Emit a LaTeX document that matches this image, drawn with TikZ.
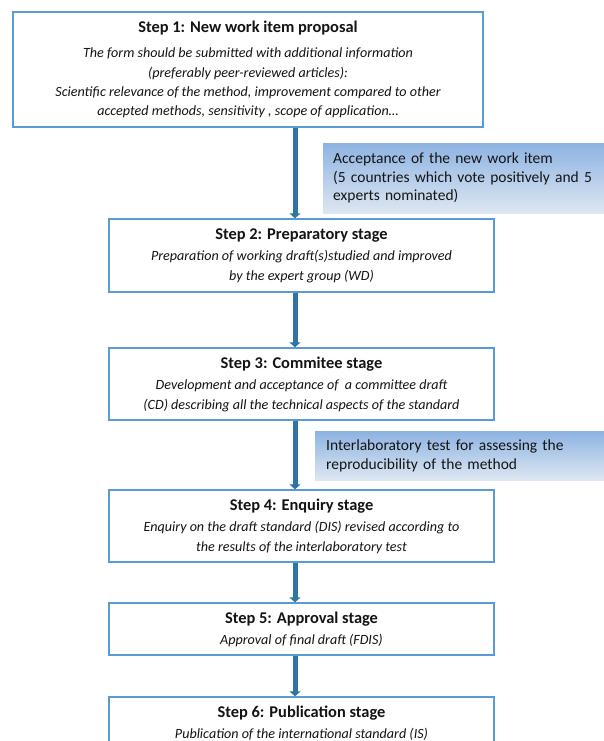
\documentclass[tikz,border=0pt]{standalone}
\usepackage{fontspec}
\setmainfont{Carlito}
\usetikzlibrary{arrows.meta}
\definecolor{boxblue}{RGB}{91,155,213}
\definecolor{flowblue}{RGB}{46,117,166}
\definecolor{notetop}{RGB}{141,179,226}
\definecolor{notebottom}{RGB}{222,231,242}
\definecolor{inktext}{RGB}{20,20,20}
\newcommand{\steptitle}[1]{{\fontsize{16.4}{19.5}\selectfont\bfseries\upshape #1}}

\begin{document}
\begin{tikzpicture}[x=1pt,y=-1pt]
			\tikzset{stage/.style={draw=boxblue,line width=1.4pt,fill=white,text=inktext,align=center,inner sep=0pt,minimum width=385pt,font=\fontsize{14.1}{20}\selectfont\itshape},
				note/.style={anchor=north west,top color=notetop,bottom color=notebottom,text=inktext,align=left,inner xsep=10pt,inner ysep=0pt,text width=280pt,font=\fontsize{15.5}{18.5}\selectfont},
				flow/.style={flowblue,line width=5pt,-{Triangle[width=11pt,length=5pt]}}}
			\useasboundingbox (0,0) rectangle (604,741);
			\clip (0,0) rectangle (604,741);
			
			\node [stage,minimum width=470pt,minimum height=115pt,font=\fontsize{14.1}{19.4}\selectfont\itshape] (s1) at (248,69.5) {\steptitle{Step 1: New work item proposal}\\[6pt]The form should be submitted with additional information\\(preferably peer-reviewed articles):\\Scientific relevance of the method, improvement compared to other\\accepted methods, sensitivity , scope of application…};
			\node [stage,minimum height=73pt] (s2) at (301.5,255.5) {\steptitle{Step 2: Preparatory stage}\\[1pt]Preparation of working draft(s)studied and improved\\by the expert group (WD)};
			\node [stage,minimum height=72pt] (s3) at (301.5,384) {\steptitle{Step 3: Commitee stage}\\[1pt]Development and acceptance of\ \ a committee draft\\(CD) describing all the technical aspects of the standard};
			\node [stage,minimum height=72pt] (s4) at (301.5,526) {\steptitle{Step 4: Enquiry stage}\\[1pt]Enquiry on the draft standard (DIS) revised according to\\the results of the interlaboratory test};
			\node [stage,minimum height=52pt] (s5) at (301.5,629) {\steptitle{Step 5: Approval stage}\\[1pt]Approval of final draft (FDIS)};
			\node [stage,minimum height=52pt] (s6) at (301.5,723) {\steptitle{Step 6: Publication stage}\\[1pt]Publication of the international standard (IS)};
			
			\node [note,minimum height=70pt] (n1) at (323,143) {Acceptance of the new work item\\(5 countries which vote positively and 5\\experts nominated)};
			\node [note,minimum height=49pt,inner xsep=11pt] (n2) at (315,431) {Interlaboratory test for assessing the\\reproducibility of the method};
			
			\coordinate (spine) at (295,0);
			\draw [flow] (s1.south -| spine) -- (s2.north -| spine);
			\draw [flow] (s2.south -| spine) -- (s3.north -| spine);
			\draw [flow] (s3.south -| spine) -- (s4.north -| spine);
			\draw [flow] (s4.south -| spine) -- (s5.north -| spine);
			\draw [flow] (s5.south -| spine) -- (s6.north -| spine);
\end{tikzpicture}
\end{document}
